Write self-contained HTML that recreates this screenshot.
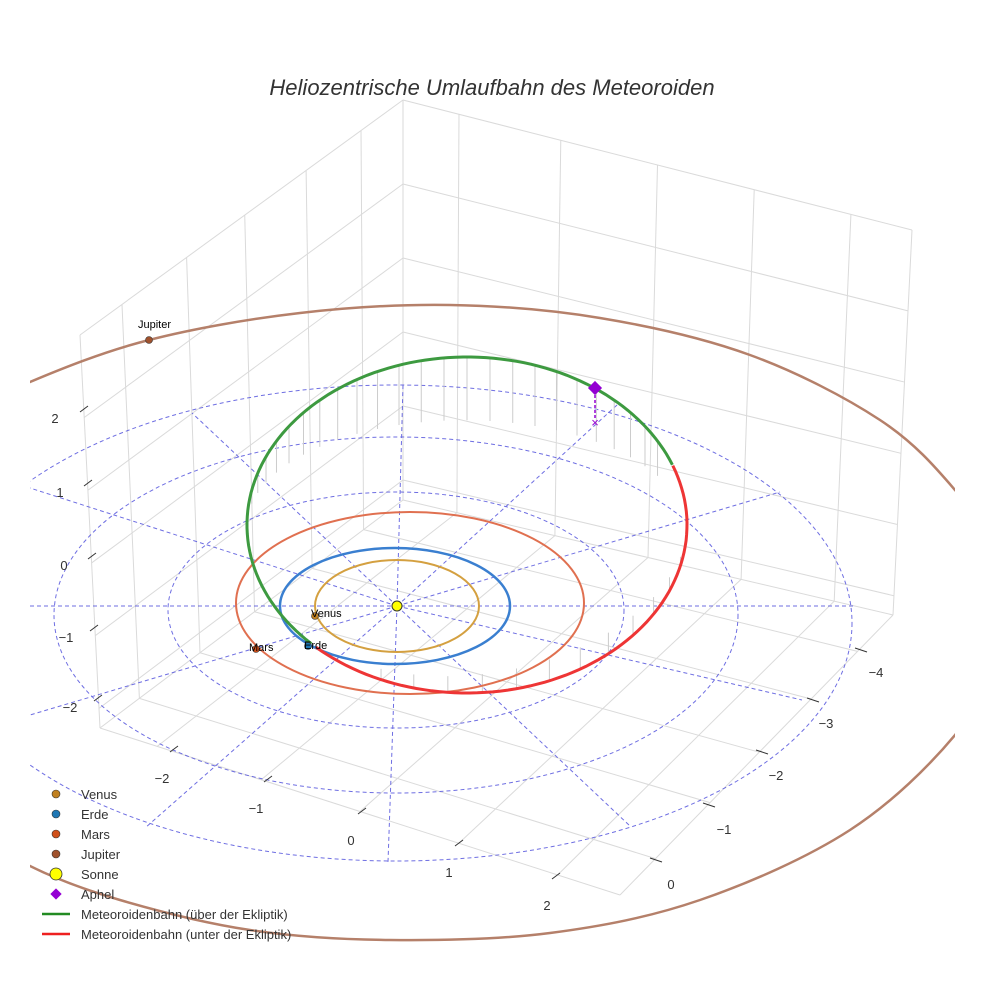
<!DOCTYPE html>
<html><head><meta charset="utf-8"><style>
body{margin:0;background:#fff}
svg{display:block}
text{font-family:"Liberation Sans",sans-serif}
</style></head><body>
<svg id="s" width="984" height="984" viewBox="0 0 984 984" xmlns="http://www.w3.org/2000/svg">
<defs><clipPath id="c"><rect x="30" y="0" width="925" height="984"/></clipPath></defs>
<g id="grid" stroke="#dadada" stroke-width="1" fill="none"></g>
<text x="492" y="95" text-anchor="middle" font-size="22" font-style="italic" fill="#333">Heliozentrische Umlaufbahn des Meteoroiden</text>
<g clip-path="url(#c)">
<g stroke="#5555dd" stroke-width="1" stroke-dasharray="4,3" fill="none" opacity="0.85">
<ellipse cx="396" cy="610" rx="228" ry="118"/>
<ellipse cx="396" cy="615" rx="342" ry="178"/>
<ellipse cx="396" cy="623" rx="456" ry="238"/>
<line x1="30" y1="606" x2="853" y2="606"/>
<line x1="397" y1="606" x2="192" y2="413"/>
<line x1="397" y1="606" x2="145" y2="828"/>
<line x1="397" y1="606" x2="388" y2="862"/>
<line x1="397" y1="606" x2="630" y2="826"/>
<line x1="397" y1="606" x2="780" y2="492"/>
<line x1="397" y1="606" x2="617" y2="405"/>
<line x1="397" y1="606" x2="403" y2="385"/>
<line x1="397" y1="606" x2="30" y2="488"/>
<line x1="397" y1="606" x2="30" y2="715"/>
<line x1="397" y1="606" x2="802" y2="700"/>
</g>
<path id="jup" fill="none" stroke="#b5806a" stroke-width="2.5"/>
</g>
<g id="drops" stroke="#cccccc" stroke-width="1"></g>
<ellipse cx="397" cy="606" rx="82" ry="46" fill="none" stroke="#d4a040" stroke-width="2"/>
<ellipse cx="395" cy="606" rx="115" ry="58" fill="none" stroke="#3a7fd0" stroke-width="2.5"/>
<ellipse cx="410" cy="603" rx="174" ry="91" fill="none" stroke="#e07050" stroke-width="2"/>
<path id="green" fill="none" stroke="#3d9a40" stroke-width="3"/>
<path id="red" fill="none" stroke="#ee3535" stroke-width="3"/>
<line x1="595" y1="390" x2="595" y2="420" stroke="#9400d3" stroke-width="1.5" stroke-dasharray="3,2"/>
<rect x="590" y="383" width="10" height="10" fill="#9400d3" transform="rotate(45 595 388)"/>
<text x="595" y="427" text-anchor="middle" font-size="13" fill="#9400d3">×</text>
<circle cx="397" cy="606" r="5" fill="#ffff00" stroke="#333" stroke-width="1"/>
<circle cx="315" cy="616" r="3.5" fill="#c08020" stroke="#333" stroke-width=".6"/>
<circle cx="308" cy="646" r="3.5" fill="#1f77b4" stroke="#333" stroke-width=".6"/>
<circle cx="256" cy="649" r="3.5" fill="#d0501a" stroke="#333" stroke-width=".6"/>
<circle cx="149" cy="340" r="3.5" fill="#a0522d" stroke="#333" stroke-width=".6"/>
<g font-size="11" fill="#000">
<text x="311" y="617">Venus</text><text x="304" y="649">Erde</text><text x="249" y="651">Mars</text><text x="138" y="328">Jupiter</text>
</g>
<g font-size="13" fill="#333" text-anchor="middle">
<text x="55" y="423">2</text><text x="60" y="497">1</text><text x="64" y="570">0</text><text x="66" y="642">−1</text><text x="70" y="712">−2</text>
<text x="162" y="783">−2</text><text x="256" y="813">−1</text><text x="351" y="845">0</text><text x="449" y="877">1</text><text x="547" y="910">2</text>
<text x="671" y="889">0</text><text x="724" y="834">−1</text><text x="776" y="780">−2</text><text x="826" y="728">−3</text><text x="876" y="677">−4</text>
</g>
<g stroke="#333" stroke-width="1">
<line x1="80" y1="412" x2="88" y2="406"/><line x1="84" y1="486" x2="92" y2="480"/><line x1="88" y1="559" x2="96" y2="553"/><line x1="90" y1="631" x2="98" y2="625"/><line x1="94" y1="701" x2="102" y2="695"/>
<line x1="170" y1="752" x2="178" y2="746"/><line x1="264" y1="782" x2="272" y2="776"/><line x1="358" y1="814" x2="366" y2="808"/><line x1="455" y1="846" x2="463" y2="840"/><line x1="552" y1="879" x2="560" y2="873"/>
<line x1="650" y1="858" x2="662" y2="862"/><line x1="703" y1="803" x2="715" y2="807"/><line x1="756" y1="750" x2="768" y2="754"/><line x1="807" y1="698" x2="819" y2="702"/><line x1="855" y1="648" x2="867" y2="652"/>
</g>
<g font-size="13" fill="#333">
<circle cx="56" cy="794" r="4" fill="#c08020" stroke="#333" stroke-width=".6"/><text x="81" y="799">Venus</text>
<circle cx="56" cy="814" r="4" fill="#1f77b4" stroke="#333" stroke-width=".6"/><text x="81" y="819">Erde</text>
<circle cx="56" cy="834" r="4" fill="#d0501a" stroke="#333" stroke-width=".6"/><text x="81" y="839">Mars</text>
<circle cx="56" cy="854" r="4" fill="#a0522d" stroke="#333" stroke-width=".6"/><text x="81" y="859">Jupiter</text>
<circle cx="56" cy="874" r="6" fill="#ffff00" stroke="#333" stroke-width=".8"/><text x="81" y="879">Sonne</text>
<rect x="52" y="890" width="8" height="8" fill="#9400d3" transform="rotate(45 56 894)"/><text x="81" y="899">Aphel</text>
<line x1="42" y1="914" x2="70" y2="914" stroke="#228b22" stroke-width="2.5"/><text x="81" y="919">Meteoroidenbahn (über der Ekliptik)</text>
<line x1="42" y1="934" x2="70" y2="934" stroke="#ee2020" stroke-width="2.5"/><text x="81" y="939">Meteoroidenbahn (unter der Ekliptik)</text>
</g>
</svg>
<script>
var g=document.getElementById('grid'),NS='http://www.w3.org/2000/svg';
function L(par,a,b){var l=document.createElementNS(NS,'line');l.setAttribute('x1',a[0]);l.setAttribute('y1',a[1]);l.setAttribute('x2',b[0]);l.setAttribute('y2',b[1]);par.appendChild(l);}
function lp(a,b,t){return[a[0]+(b[0]-a[0])*t,a[1]+(b[1]-a[1])*t];}
var TL=[80,335],BL=[100,728],TB=[403,100],BB=[403,500],TR=[912,230],BR=[893,615],FD=[620,895];
var lf=[0.13,0.33,0.51,0.70,0.87],rf=[0.11,0.31,0.5,0.69,0.88],zf=[0.21,0.395,0.58,0.765,0.95];
[[TL,TB],[TB,TR],[TL,BL],[TB,BB],[TR,BR],[BL,BB],[BB,BR],[BL,FD],[FD,BR]].forEach(function(p){L(g,p[0],p[1]);});
lf.forEach(function(f){L(g,lp(TL,TB,f),lp(BL,BB,f));L(g,lp(BL,BB,f),lp(FD,BR,f));});
rf.forEach(function(f){L(g,lp(TB,TR,f),lp(BB,BR,f));L(g,lp(BB,BR,f),lp(BL,FD,f));});
zf.forEach(function(f){var a=lp(TL,BL,f),b=lp(TB,BB,f),c=lp(TR,BR,f);L(g,a,b);L(g,b,c);});
function P(deg){var t=deg*Math.PI/180;return[467+220*Math.cos(t),525+168*Math.sin(t)];}
function path(a0,a1){var s='';for(var a=a0;a<=a1+0.01;a+=2){var p=P(a);s+=(s?'L':'M')+p[0].toFixed(1)+','+p[1].toFixed(1);}return s;}
document.getElementById('green').setAttribute('d',path(135,339.3));
document.getElementById('red').setAttribute('d',path(-20.7,135));
var d=document.getElementById('drops');
for(var a=150;a<=335;a+=6){var p=P(a);var h=Math.max(0,-Math.sin(a*Math.PI/180))*60+Math.max(0,(a-150)/185)*5;L(d,p,[p[0],p[1]+h]);}
for(var a=5;a<=120;a+=9){var p=P(a);var h=Math.sin(a*Math.PI/180)*40*(1-a/160);L(d,p,[p[0],p[1]-h]);}
// Jupiter orbit via Catmull-Rom
var J=[[-40,420],[30,382],[149,340],[300,313],[450,305],[600,318],[750,355],[880,420],[955,490],[1000,560],[1000,650],[955,735],[850,830],[700,900],[550,933],[390,940],[250,930],[120,900],[30,866],[-40,820],[-70,700],[-70,520]];
var n=J.length,s='M'+J[0][0]+','+J[0][1];
for(var i=0;i<n;i++){var p0=J[(i-1+n)%n],p1=J[i],p2=J[(i+1)%n],p3=J[(i+2)%n];
 if(i==0)s='M'+p1[0]+','+p1[1];
 s+='C'+(p1[0]+(p2[0]-p0[0])/6).toFixed(1)+','+(p1[1]+(p2[1]-p0[1])/6).toFixed(1)+' '+(p2[0]-(p3[0]-p1[0])/6).toFixed(1)+','+(p2[1]-(p3[1]-p1[1])/6).toFixed(1)+' '+p2[0]+','+p2[1];}
document.getElementById('jup').setAttribute('d',s);
</script>
</body></html>
